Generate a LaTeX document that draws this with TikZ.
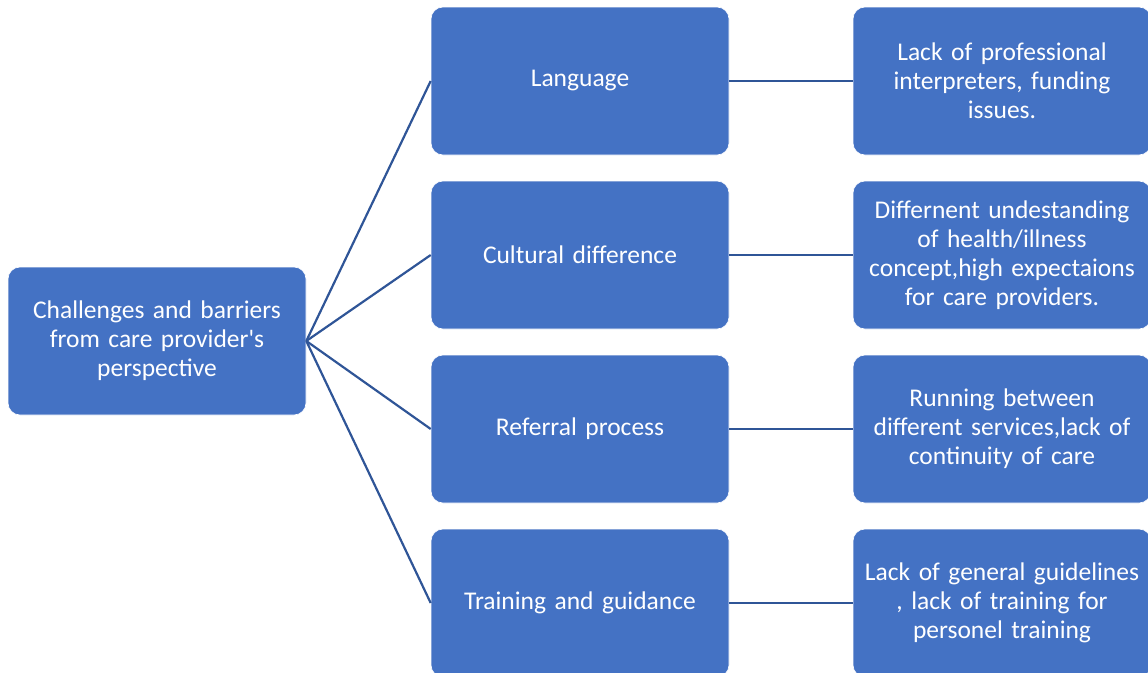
\documentclass[tikz,border=0pt]{standalone}
\usepackage{fontspec}
\setmainfont{Carlito}
\definecolor{boxblue}{HTML}{4472C4}
\definecolor{linkblue}{HTML}{2F5597}
\begin{document}
\begin{tikzpicture}[x=1pt,y=-1pt,
  box/.style={draw=white,line width=0.6pt,fill=boxblue,rounded corners=12pt,
    minimum width=298pt,minimum height=148pt,text=white,align=center,
    font=\fontsize{25.5}{29}\selectfont,inner sep=0pt,text width=294pt},
  link/.style={draw=linkblue,line width=2.2pt}]
\useasboundingbox (0,0) rectangle (1148,672);
\node[box] (root) at (157,341) {Challenges and barriers\\from care provider\textquotesingle s\\perspective};
\node[box] (m1) at (580,81) {Language};
\node[box] (m2) at (580,255) {Cultural difference};
\node[box] (m3) at (580,429) {Referral process};
\node[box] (m4) at (580,603) {Training and guidance};
\node[box] (r1) at (1002,81) {Lack of professional\\interpreters, funding\\issues.};
\node[box] (r2) at (1002,255) {Differnent undestanding\\of health/illness\\concept,high expectaions\\for care providers.};
\node[box] (r3) at (1002,429) {Running between\\different services,lack of\\continuity of care};
\node[box] (r4) at (1002,603) {Lack of general guidelines\\, lack of training for\\personel training};
\foreach \i in {1,2,3,4}{
  \draw[link] (root.east) -- (m\i.west);
  \draw[link] (m\i.east) -- (r\i.west);
}
\end{tikzpicture}
\end{document}
